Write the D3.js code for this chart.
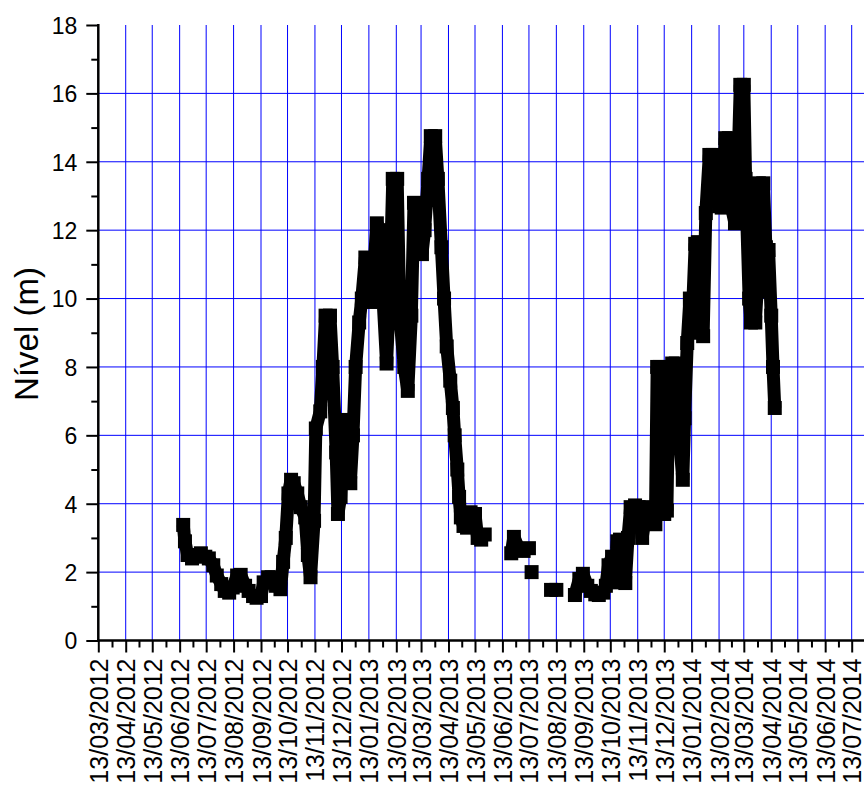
<!DOCTYPE html>
<html>
<head>
<meta charset="utf-8">
<script src="https://cdn.jsdelivr.net/npm/d3@7"></script>
<style>
  html, body { margin: 0; padding: 0; background: #fff; }
  svg { display: block; }
  text { font-family: "Liberation Sans", Arial, sans-serif; fill: #000; }
</style>
</head>
<body>
<svg id="chart" width="864" height="787"></svg>
<script>
// Monthly tick labels along the time axis
const xTickLabels = [
  "13/03/2012","13/04/2012","13/05/2012","13/06/2012","13/07/2012","13/08/2012",
  "13/09/2012","13/10/2012","13/11/2012","13/12/2012","13/01/2013","13/02/2013",
  "13/03/2013","13/04/2013","13/05/2013","13/06/2013","13/07/2013","13/08/2013",
  "13/09/2013","13/10/2013","13/11/2013","13/12/2013","13/01/2014","13/02/2014",
  "13/03/2014","13/04/2014","13/05/2014","13/06/2014","13/07/2014"
];
const yTicks = [0, 2, 4, 6, 8, 10, 12, 14, 16, 18];
const yMinorTicks = [1, 3, 5, 7, 9, 11, 13, 15, 17];

// Water level readings (m); null entries mark breaks in the record
const dates = [
  "2012-06-17","2012-06-19","2012-06-22","2012-06-27","2012-07-02","2012-07-07","2012-07-12",
  "2012-07-16","2012-07-21","2012-07-25","2012-07-30","2012-08-03","2012-08-08","2012-08-12",
  "2012-08-17","2012-08-21","2012-08-26","2012-08-30","2012-09-04","2012-09-08","2012-09-13",
  "2012-09-16","2012-09-21","2012-09-25","2012-09-30","2012-10-05","2012-10-08","2012-10-11",
  "2012-10-14","2012-10-17","2012-10-20","2012-10-24","2012-10-28","2012-11-02","2012-11-05",
  "2012-11-08","2012-11-12","2012-11-14","2012-11-19","2012-11-22","2012-11-25","2012-11-30",
  "2012-12-03","2012-12-07","2012-12-09","2012-12-12","2012-12-16","2012-12-19","2012-12-23",
  "2012-12-26","2012-12-29","2013-01-02","2013-01-05","2013-01-09","2013-01-12","2013-01-15",
  "2013-01-19","2013-01-22","2013-01-26","2013-01-29","2013-02-02","2013-02-06","2013-02-09",
  "2013-02-14","2013-02-17","2013-02-22","2013-02-26","2013-03-02","2013-03-05","2013-03-10",
  "2013-03-14","2013-03-17","2013-03-21","2013-03-24","2013-03-29","2013-04-01","2013-04-05",
  "2013-04-08","2013-04-11","2013-04-15","2013-04-18","2013-04-20","2013-04-23","2013-04-25",
  "2013-04-27","2013-04-30","2013-05-04","2013-05-08","2013-05-13","2013-05-16","2013-05-20",
  "2013-05-24",
  null,
  "2013-06-23","2013-06-26","2013-07-02","2013-07-07","2013-07-13",
  null,
  "2013-07-16",
  null,
  "2013-08-07","2013-08-13",
  null,
  "2013-09-03","2013-09-08","2013-09-12","2013-09-17","2013-09-21","2013-09-26","2013-09-30",
  "2013-10-05","2013-10-08","2013-10-11","2013-10-15","2013-10-17","2013-10-21","2013-10-24",
  "2013-10-27","2013-10-30","2013-11-02","2013-11-05","2013-11-10","2013-11-14","2013-11-18",
  "2013-11-21","2013-11-26","2013-11-29","2013-12-03","2013-12-05","2013-12-08","2013-12-11",
  "2013-12-13","2013-12-16","2013-12-18","2013-12-22","2013-12-26","2013-12-30","2014-01-03",
  "2014-01-05","2014-01-08","2014-01-11","2014-01-13","2014-01-17","2014-01-20","2014-01-22",
  "2014-01-26","2014-01-29","2014-02-02","2014-02-06","2014-02-10","2014-02-13","2014-02-16",
  "2014-02-20","2014-02-24","2014-02-26","2014-03-03","2014-03-06","2014-03-09","2014-03-13",
  "2014-03-15","2014-03-19","2014-03-21","2014-03-26","2014-03-28","2014-03-30","2014-04-04",
  "2014-04-07","2014-04-10","2014-04-13","2014-04-15","2014-04-17"
];
const levels = [
  3.38, 2.9, 2.5, 2.4, 2.5, 2.55, 2.45,
  2.4, 2.2, 1.9, 1.65, 1.45, 1.4, 1.55,
  1.9, 1.92, 1.6, 1.45, 1.3, 1.25, 1.3,
  1.7, 1.85, 1.85, 1.6, 1.5, 2.3, 3.0,
  4.3, 4.7, 4.6, 4.3, 3.9, 3.6, 2.5,
  1.85, 3.5, 6.2, 6.7, 8.0, 9.5, 9.5,
  8.0, 5.5, 3.7, 4.2, 6.45, 5.5, 4.6,
  6.0, 8.0, 9.3, 10.0, 11.2, 10.5, 9.9,
  11.0, 12.2, 12.0, 10.0, 8.1, 10.5, 13.5,
  13.5, 9.5, 8.0, 7.3, 9.5, 12.8, 12.5,
  11.3, 12.0, 13.5, 14.75, 14.75, 13.5, 11.5,
  10.0, 8.6, 7.6, 6.8, 6.0, 5.0, 4.2,
  3.6, 3.35, 3.3, 3.75, 3.7, 3.0, 2.95,
  3.1,
  null,
  2.55, 3.03, 2.65, 2.62, 2.7,
  null,
  2.0,
  null,
  1.48, 1.48,
  null,
  1.33, 1.8, 1.95, 1.6, 1.45, 1.35, 1.33,
  1.4, 1.6, 2.2, 2.45, 1.7, 2.9, 2.95,
  2.2, 1.68, 3.0, 3.9, 3.95, 3.9, 3.0,
  3.5, 3.9, 3.5, 3.4, 8.0, 8.0, 5.5,
  3.7, 3.8, 7.0, 8.1, 8.1, 6.0, 4.7,
  6.5, 8.7, 10.0, 9.0, 11.6, 11.65, 10.5,
  8.9, 12.5, 14.2, 14.2, 13.3, 12.7, 12.66,
  14.69, 14.69, 12.8, 12.2, 13.5, 16.25, 16.25,
  13.5, 10.0, 9.3, 9.3, 10.2, 13.37, 13.37,
  11.5, 11.42, 9.5, 8.0, 6.8
];

const parseDay = d3.utcParse("%Y-%m-%d");
const parseTick = d3.utcParse("%d/%m/%Y");
const fmtTick = d3.utcFormat("%d/%m/%Y");

const tickDates = xTickLabels.map(parseTick);
const minorDates = d3.pairs(tickDates).map(([a, b]) => new Date((+a + +b) / 2));

const points = dates.map((d, i) => ({ t: d ? parseDay(d) : null, v: levels[i] }));

const svg = d3.select("#chart");

const x = d3.scaleUtc()
  .domain([tickDates[0], tickDates[tickDates.length - 1]])
  .range([98.3, 851.7]);
const y = d3.scaleLinear().domain([0, 18]).range([640.5, 25]);

const gridColor = "#0000ff";
const rightEdge = 864;

// Grid
const grid = svg.append("g").attr("class", "grid");
grid.selectAll("line.v")
  .data(tickDates)
  .join("line")
  .attr("class", "v")
  .attr("x1", d => x(d)).attr("x2", d => x(d))
  .attr("y1", y(18)).attr("y2", y(0))
  .attr("stroke", gridColor).attr("stroke-width", 1);
grid.selectAll("line.h")
  .data(yTicks.filter(v => v > 0 && v < 18))
  .join("line")
  .attr("class", "h")
  .attr("x1", x.range()[0]).attr("x2", rightEdge)
  .attr("y1", d => y(d)).attr("y2", d => y(d))
  .attr("stroke", gridColor).attr("stroke-width", 1);

// Series: thick line with square markers
const line = d3.line()
  .defined(d => d.t !== null && d.v !== null)
  .x(d => x(d.t))
  .y(d => y(d.v));

svg.append("path")
  .datum(points)
  .attr("d", line)
  .attr("fill", "none")
  .attr("stroke", "#000")
  .attr("stroke-width", 13)
  .attr("stroke-linejoin", "bevel");

const marker = 14;
svg.append("g")
  .selectAll("rect")
  .data(points.filter(d => d.t !== null))
  .join("rect")
  .attr("x", d => x(d.t) - marker / 2)
  .attr("y", d => y(d.v) - marker / 2)
  .attr("width", marker)
  .attr("height", marker)
  .attr("fill", "#000");

// Axes
const axisY = svg.append("g").attr("transform", `translate(${x.range()[0]},0)`);
axisY.call(d3.axisLeft(y).tickValues(yTicks).tickSize(12).tickSizeOuter(0).tickPadding(9));
axisY.call(g => g.select(".domain").remove());
axisY.selectAll(".tick line").attr("stroke", "#000").attr("stroke-width", 2);
axisY.selectAll(".tick text").attr("font-size", 23).attr("dy", "0.36em")
  .style("font-family", "'Liberation Sans', Arial, sans-serif");

const axisYMinor = svg.append("g").attr("transform", `translate(${x.range()[0]},0)`);
axisYMinor.call(d3.axisLeft(y).tickValues(yMinorTicks).tickSize(7).tickFormat(""));
axisYMinor.call(g => g.select(".domain").remove());
axisYMinor.selectAll(".tick line").attr("stroke", "#000").attr("stroke-width", 2);

const axisX = svg.append("g").attr("transform", `translate(0,${y(0)})`);
axisX.call(d3.axisBottom(x).tickValues(tickDates).tickFormat(fmtTick).tickSize(12).tickSizeOuter(0));
axisX.call(g => g.select(".domain").remove());
axisX.selectAll(".tick line").attr("stroke", "#000").attr("stroke-width", 2);
axisX.selectAll(".tick text")
  .attr("transform", "rotate(-90)")
  .attr("text-anchor", "end")
  .attr("x", -18)
  .attr("y", 0)
  .attr("dy", "0.36em")
  .attr("font-size", 25)
  .style("font-family", "'Liberation Sans', Arial, sans-serif");

const axisXMinor = svg.append("g").attr("transform", `translate(0,${y(0)})`);
axisXMinor.call(d3.axisBottom(x).tickValues(minorDates).tickSize(7).tickFormat(""));
axisXMinor.call(g => g.select(".domain").remove());
axisXMinor.selectAll(".tick line").attr("stroke", "#000").attr("stroke-width", 2);

// Axis lines
svg.append("line")
  .attr("x1", x.range()[0]).attr("x2", x.range()[0])
  .attr("y1", y(18) - 1).attr("y2", y(0) + 1)
  .attr("stroke", "#000").attr("stroke-width", 2.5);
svg.append("line")
  .attr("x1", x.range()[0] - 1).attr("x2", rightEdge)
  .attr("y1", y(0)).attr("y2", y(0))
  .attr("stroke", "#000").attr("stroke-width", 2.5);

// Axis title
svg.append("text")
  .attr("transform", "translate(38,334) rotate(-90)")
  .attr("text-anchor", "middle")
  .attr("font-size", 33)
  .text("Nível (m)");
</script>
</body>
</html>
